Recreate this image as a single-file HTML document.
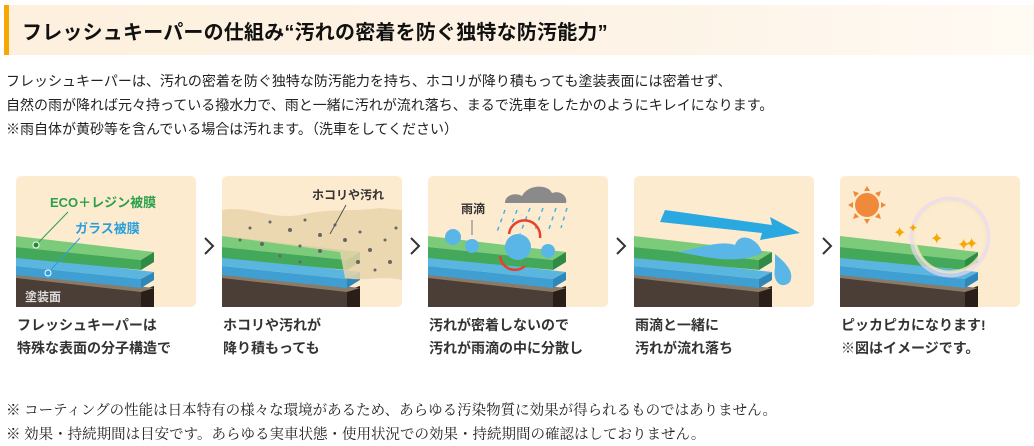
<!DOCTYPE html>
<html><head><meta charset="utf-8"><style>
html,body{margin:0;padding:0;background:#fff;width:1034px;height:446px;overflow:hidden;position:relative;font-family:"Liberation Sans","Noto Sans CJK JP",sans-serif;color:#222}
.hd{position:absolute;left:4px;top:5px;width:1030px;height:50px;background:linear-gradient(90deg,#fdf0de 0%,#fdf3e6 60%,#fffaf3 100%);border-left:5px solid #f5a800;box-sizing:border-box}
.hd span{position:absolute;left:13px;top:11px;font-size:20px;font-weight:bold;color:#111;white-space:nowrap;letter-spacing:0.2px}
.t{position:absolute;left:6px;font-size:14px;white-space:nowrap;color:#222}
.cap{position:absolute;font-size:14px;font-weight:bold;color:#333;white-space:nowrap;line-height:23px}
.n{position:absolute;left:6px;font-size:14.5px;font-family:"Liberation Serif","Noto Serif CJK SC",serif;white-space:nowrap;color:#222}
svg{position:absolute;left:0;top:0}
</style></head><body>
<div class="hd"><span>フレッシュキーパーの仕組み“汚れの密着を防ぐ独特な防汚能力”</span></div>
<div class="t" style="top:71px">フレッシュキーパーは、汚れの密着を防ぐ独特な防汚能力を持ち、ホコリが降り積もっても塗装表面には密着せず、</div>
<div class="t" style="top:95px">自然の雨が降れば元々持っている撥水力で、雨と一緒に汚れが流れ落ち、まるで洗車をしたかのようにキレイになります。</div>
<div class="t" style="top:119px">※雨自体が黄砂等を含んでいる場合は汚れます。（洗車をしてください）</div>

<svg width="1034" height="446" viewBox="0 0 1034 446">
<defs>
<g id="slab">
 <rect x="0" y="0" width="180" height="131" rx="5" fill="#fdebd0"/>
 <polygon points="0,100 138,116 138,131 0,131" fill="#4a3e36"/>
 <polygon points="125,114 138,110 138,131 125,131" fill="#2a1e18"/>
 <polygon points="0,96 138,112 125,116 0,102" fill="#8a7a68"/>
 <polygon points="0,80 138,96 125,103 0,90" fill="#5ab6de"/>
 <polygon points="0,90 125,103 125,112 0,99" fill="#3f9fd2"/>
 <polygon points="125,103 138,96 138,104 125,112" fill="#2f86b8"/>
 <polygon points="0,60 138,76 125,84 0,71" fill="#7ccb7a"/>
 <polygon points="0,71 125,84 125,94 0,82" fill="#44a85a"/>
 <polygon points="125,84 138,76 138,86 125,94" fill="#2e8a44"/>
</g>
</defs>
<use href="#slab" x="16" y="176"/>
<use href="#slab" x="222" y="176"/>
<use href="#slab" x="428" y="176"/>
<use href="#slab" x="634" y="176"/>
<use href="#slab" x="840" y="176"/>
<text x="50" y="207" font-size="13" font-weight="bold" fill="#2aa04a" font-family="Liberation Sans,Noto Sans CJK JP,sans-serif">ECO＋レジン被膜</text>
<text x="75" y="233" font-size="13" font-weight="bold" fill="#2b9fdc" font-family="Liberation Sans,Noto Sans CJK JP,sans-serif">ガラス被膜</text>
<line x1="36" y1="245" x2="68" y2="212" stroke="#2aa04a"/>
<circle cx="36" cy="245" r="3" fill="#1a8a3a" stroke="#fff"/>
<line x1="48" y1="273" x2="80" y2="238" stroke="#2b9fdc"/>
<circle cx="48" cy="273" r="3" fill="#2b9fdc" stroke="#fff"/>
<text x="25" y="301" font-size="12" font-weight="bold" fill="#ddd" font-family="Liberation Sans,Noto Sans CJK JP,sans-serif">塗装面</text>
<path d="M222,210 C250,205 270,220 300,215 C330,208 350,212 380,208 L402,210 L402,280 C380,275 365,282 345,278 L340,252 L222,236 Z" fill="#e8d4aa" opacity="0.85"/>
<g fill="#666">
<circle cx="250" cy="228" r="1.5"/><circle cx="270" cy="222" r="1.5"/><circle cx="290" cy="230" r="2"/><circle cx="305" cy="220" r="1.5"/><circle cx="320" cy="235" r="2"/><circle cx="335" cy="225" r="1.5"/><circle cx="345" cy="240" r="2"/><circle cx="360" cy="232" r="1.5"/><circle cx="370" cy="250" r="2"/><circle cx="385" cy="240" r="1.5"/><circle cx="390" cy="262" r="2"/><circle cx="375" cy="270" r="1.5"/><circle cx="358" cy="262" r="2"/><circle cx="320" cy="251" r="2"/><circle cx="300" cy="246" r="1.5"/><circle cx="262" cy="244" r="2"/><circle cx="240" cy="240" r="1.5"/><circle cx="280" cy="256" r="1.5"/><circle cx="300" cy="262" r="1.5"/><circle cx="396" cy="228" r="1.5"/>
</g>
<line x1="330" y1="234" x2="346" y2="205" stroke="#555"/>
<text x="312" y="199" font-size="12" font-weight="bold" fill="#333" font-family="Liberation Sans,Noto Sans CJK JP,sans-serif">ホコリや汚れ</text>
<path d="M505,203 C505,195 515,192 522,196 C528,184 548,184 552,193 C560,190 568,196 566,203 Z" fill="#8a8a8a"/>
<g stroke="#4ab0e0" stroke-width="1.5" stroke-dasharray="4 5">
<line x1="505" y1="210" x2="497" y2="232"/><line x1="517" y1="210" x2="509" y2="232"/><line x1="530" y1="208" x2="520" y2="234"/><line x1="543" y1="208" x2="535" y2="230"/><line x1="556" y1="208" x2="548" y2="232"/><line x1="567" y1="208" x2="561" y2="228"/>
</g>
<text x="461" y="213" font-size="12" font-weight="bold" fill="#333" font-family="Liberation Sans,Noto Sans CJK JP,sans-serif">雨滴</text>
<line x1="472" y1="220" x2="472" y2="235" stroke="#777"/>
<circle cx="453" cy="237" r="8" fill="#5ab6e6"/><circle cx="472" cy="246" r="7" fill="#5ab6e6"/><circle cx="518" cy="247" r="13" fill="#5ab6e6"/><circle cx="548" cy="251" r="7" fill="#5ab6e6"/>
<path d="M509,234 A15,15 0 0 1 540,238" stroke="#e8402a" stroke-width="2.5" fill="none"/>
<path d="M500,256 A15,15 0 0 0 525,266" stroke="#e8402a" stroke-width="2.5" fill="none"/>
<polygon points="665,210 772,225 770,217 800,233 760,240 762,233 660,222" fill="#2aa8e0"/>
<path d="M678,252 C700,248 720,240 735,245 C740,230 760,240 762,253 C745,262 720,260 700,256 Z" fill="#5ab6e6"/>
<path d="M775,254 C785,262 795,272 790,282 C782,290 772,282 775,268 Z" fill="#5ab6e6"/>
<circle cx="867" cy="205" r="12" fill="#f08a3a"/>
<g fill="#f08a3a"><polygon points="867,186 864,191 870,191"/><polygon points="867,224 864,219 870,219"/><polygon points="848,205 853,202 853,208"/><polygon points="886,205 881,202 881,208"/><polygon points="853,191 855,197 859,193"/><polygon points="881,191 879,197 875,193"/><polygon points="853,219 855,213 859,217"/><polygon points="881,219 879,213 875,217"/></g>
<circle cx="950" cy="237" r="38" fill="none" stroke="#e8d8f0" stroke-width="5" opacity="0.7"/>
<circle cx="950" cy="237" r="35" fill="none" stroke="#f6ecc0" stroke-width="3" opacity="0.8"/>
<g fill="#f5a800" font-size="16" font-family="DejaVu Sans,sans-serif"><text x="893" y="238">✦</text><text x="930" y="244">✦</text><text x="957" y="250">✦</text><text x="965" y="249">✦</text><text x="908" y="232" font-size="12">✦</text></g>
<g stroke="#333" stroke-width="2" fill="none">
<polyline points="205,238 213,246 205,254"/><polyline points="411,238 419,246 411,254"/><polyline points="617,238 625,246 617,254"/><polyline points="823,238 831,246 823,254"/>
</g>
</svg>

<div class="cap" style="left:17px;top:314px">フレッシュキーパーは<br>特殊な表面の分子構造で</div>
<div class="cap" style="left:223px;top:314px">ホコリや汚れが<br>降り積もっても</div>
<div class="cap" style="left:429px;top:314px">汚れが密着しないので<br>汚れが雨滴の中に分散し</div>
<div class="cap" style="left:635px;top:314px">雨滴と一緒に<br>汚れが流れ落ち</div>
<div class="cap" style="left:841px;top:314px">ピッカピカになります!<br>※図はイメージです。</div>

<div class="n" style="top:399px">※ コーティングの性能は日本特有の様々な環境があるため、あらゆる汚染物質に効果が得られるものではありません。</div>
<div class="n" style="top:423px">※ 効果・持続期間は目安です。あらゆる実車状態・使用状況での効果・持続期間の確認はしておりません。</div>
</body></html>
